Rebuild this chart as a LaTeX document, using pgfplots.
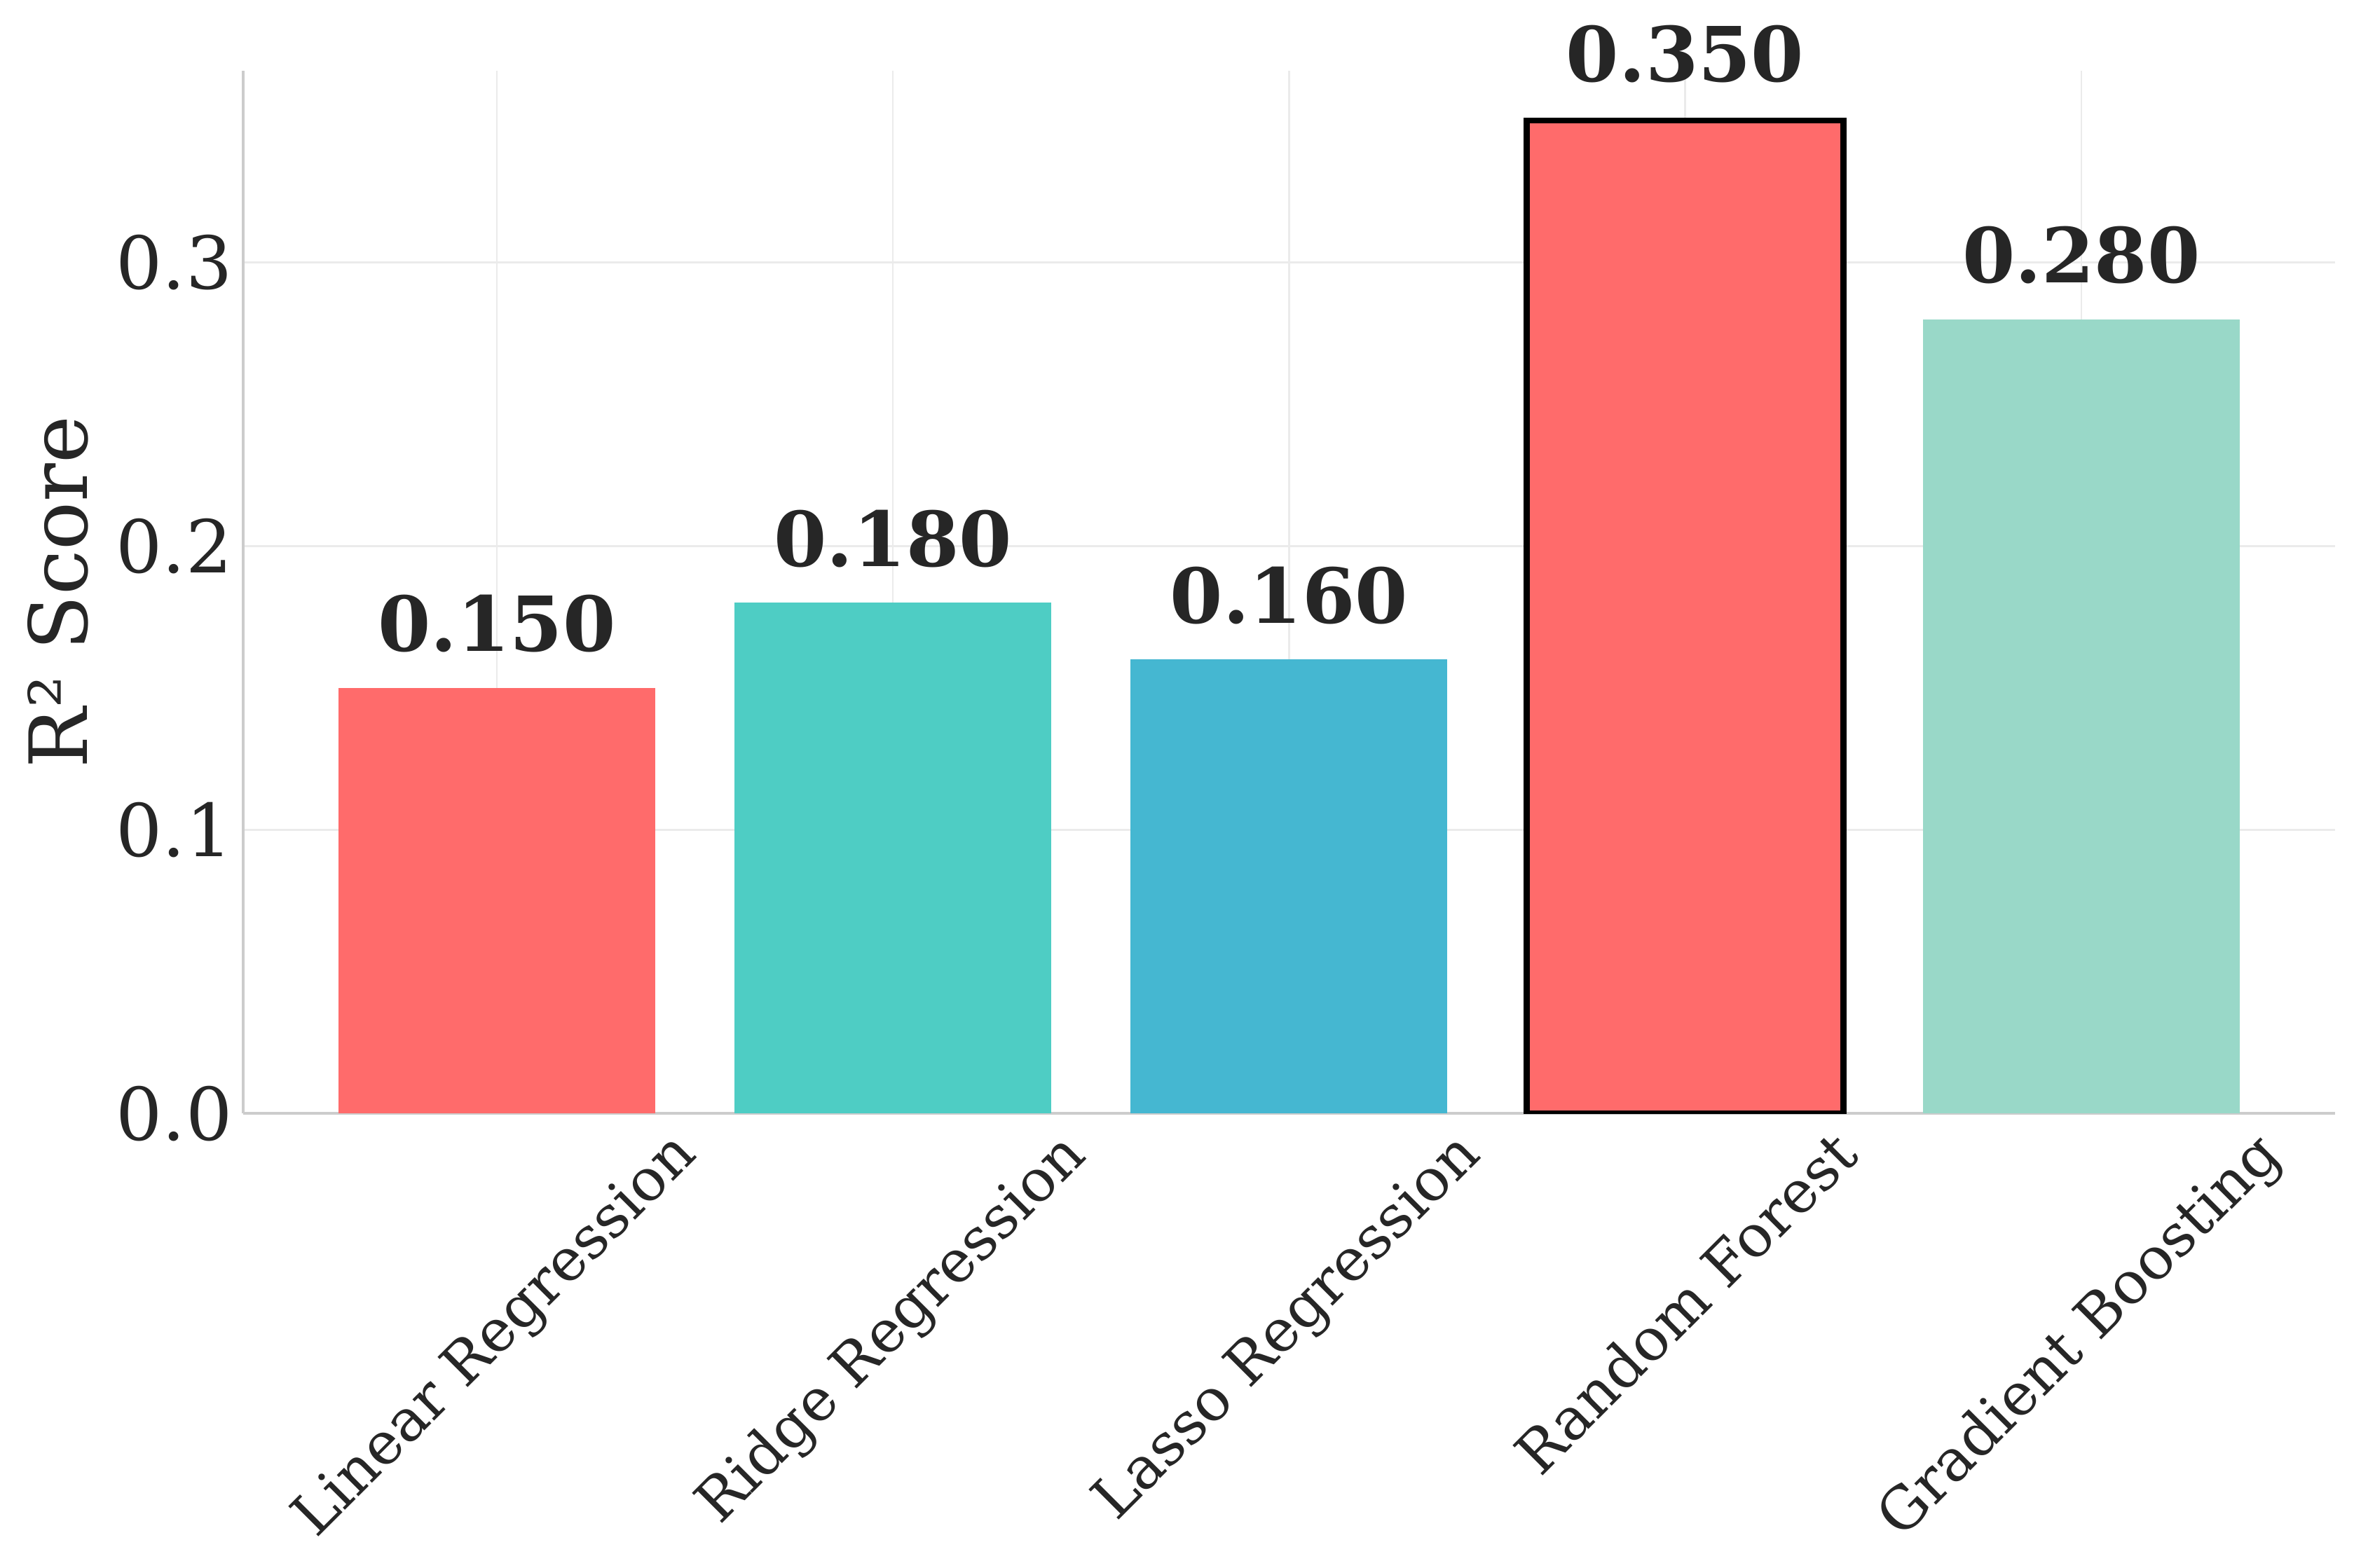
\documentclass[border=0pt]{standalone}
\usepackage{fontspec}
\setmainfont{DejaVu Serif}
\usepackage{graphicx}
\usepackage{pgfplots}
\pgfplotsset{compat=1.18}
\definecolor{c1}{HTML}{FF6B6B}
\definecolor{c2}{HTML}{4ECDC4}
\definecolor{c3}{HTML}{45B7D1}
\definecolor{c5}{HTML}{99D8C8}
\definecolor{txt}{HTML}{262626}
\definecolor{gridc}{HTML}{EBEBEB}
\definecolor{spine}{HTML}{CCCCCC}
\begin{document}
\begin{tikzpicture}
\begin{axis}[
  at={(0,0)}, anchor=south west,
  scale only axis, width=716pt, height=357pt,
  xmin=-0.64, xmax=4.64, ymin=0, ymax=0.3675,
  axis x line*=bottom, axis y line*=left,
  axis line style={spine, line width=0.9pt, -},
  xtick={0,1,2,3,4},
  xticklabels={{\rotatebox{45}{Linear Regression}},{\rotatebox{45}{Ridge Regression}},{\rotatebox{45}{Lasso Regression}},{\rotatebox{45}{Random Forest}},{\rotatebox{45}{Gradient Boosting}}},
  xticklabel style={anchor=north, inner sep=0pt, yshift=-4.2pt, font=\fontsize{20}{24}\selectfont, text=txt},
  ytick={0,0.1,0.2,0.3}, yticklabels={0.0,0.1,0.2,0.3},
  yticklabel style={anchor=east, inner sep=0pt, xshift=-3.6pt, font=\fontsize{25}{30}\selectfont, text=txt},
  major tick length=0pt,
  grid=major, major grid style={gridc, line width=0.6pt},
  ylabel={R² Score},
  ylabel style={at={(axis description cs:0,0.5)}, anchor=center, yshift=63.5pt, font=\fontsize{27.5}{33}\selectfont, text=txt},
  ybar, bar width=0.8,
  nodes near coords={\pgfmathprintnumber[fixed,fixed zerofill,precision=3,assume math mode=true]{\pgfplotspointmeta}},
  nodes near coords style={font=\bfseries\fontsize{26}{31}\selectfont, text=txt, anchor=south, inner sep=0pt, yshift=12pt},
]
\addplot[fill=c1, draw=none, bar shift=0pt] coordinates {(0,0.15)};
\addplot[fill=c2, draw=none, bar shift=0pt] coordinates {(1,0.18)};
\addplot[fill=c3, draw=none, bar shift=0pt] coordinates {(2,0.16)};
\addplot[fill=c1, draw=black, line width=2pt, bar shift=0pt] coordinates {(3,0.35)};
\addplot[fill=c5, draw=none, bar shift=0pt] coordinates {(4,0.28)};
\end{axis}
\pgfresetboundingbox
\path (-83.3pt,-155.6pt) rectangle (722.6pt,381.3pt);
\end{tikzpicture}
\end{document}
